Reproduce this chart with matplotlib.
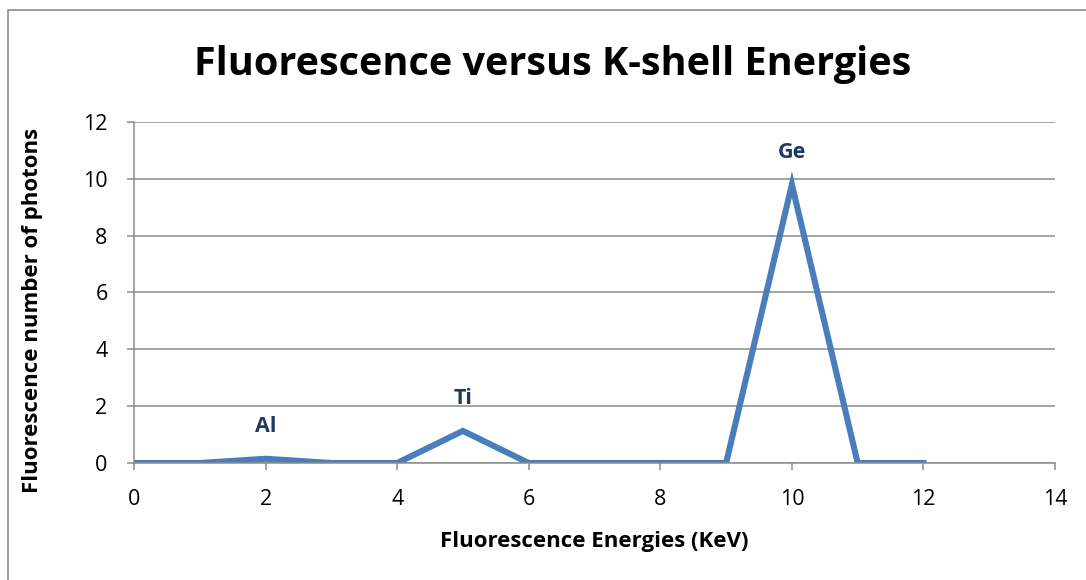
import matplotlib.pyplot as plt
from matplotlib.patches import Rectangle

# K-shell fluorescence counts per energy bin
energy = [0, 1, 2, 3, 4, 5, 6, 7, 8, 9, 10, 11, 12]
photons = [0, 0, 0.15, 0, 0, 1.13, 0, 0, 0, 0, 9.8, 0, 0]

# element peaks to tag
peak_names = ["Al", "Ti", "Ge"]
peak_energy = [2, 5, 10]
peak_photons = [0.15, 1.13, 9.8]

plt.rcParams['font.family'] = ['Open Sans', 'DejaVu Sans']

fig = plt.figure(figsize=(10.86, 5.8), dpi=100)
ax = fig.add_axes([0.1234, 0.2017, 0.8481, 0.588])

# outer chart border
fig.patches.append(Rectangle((8 / 1086, -0.01), 1.1, 1 - 10 / 580 + 0.01,
                             transform=fig.transFigure, fill=False,
                             edgecolor='#8c8c8c', linewidth=1.2))

ax.plot(energy, photons, color='#4A7EBB', linewidth=4.4, solid_joinstyle='miter')

for name, x, y in zip(peak_names, peak_energy, peak_photons):
    ax.annotate(name, (x, y), xytext=(0, 23), textcoords='offset points',
                ha='center', va='center', fontsize=15.5, fontweight='bold',
                color='#1F3864')

ax.set_xlim(0, 14)
ax.set_ylim(0, 12)
ax.set_xticks(range(0, 15, 2))
ax.set_yticks(range(0, 13, 2))
ax.grid(axis='y', color='#8c8c8c', linewidth=1.1)
ax.set_axisbelow(True)
for side in ['top', 'right']:
    ax.spines[side].set_visible(False)
for side in ['left', 'bottom']:
    ax.spines[side].set_color('#8c8c8c')
    ax.spines[side].set_linewidth(1.1)
ax.tick_params(colors='#8c8c8c', labelcolor='black', labelsize=15.5, length=5, width=1.1)
ax.tick_params(axis='x', pad=14)
ax.tick_params(axis='y', pad=14)

ax.set_xlabel('Fluorescence Energies (KeV)', fontsize=16, fontweight='bold', labelpad=15)
ax.set_ylabel('Fluorescence number of photons', fontsize=16, fontweight='bold',
              va='center')
ax.yaxis.set_label_coords(-0.1097, 0.446)
fig.text(0.509, 0.888, 'Fluorescence versus K-shell Energies', ha='center', va='center',
         fontsize=28.5, fontweight='bold')

plt.savefig("out.png")
